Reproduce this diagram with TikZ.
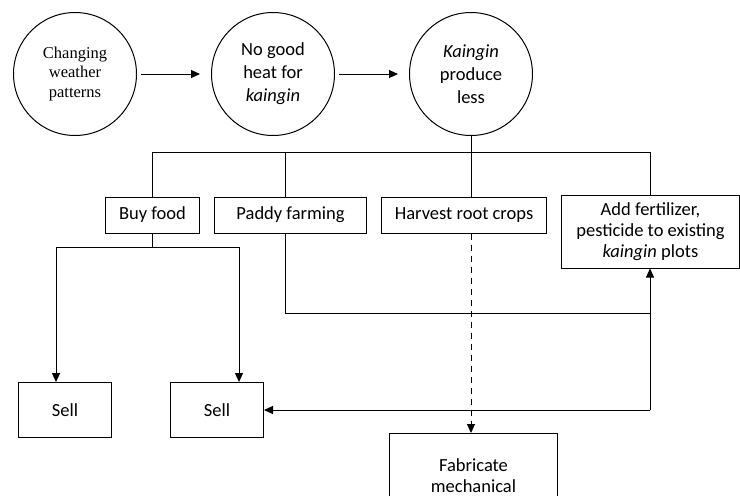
\documentclass[tikz,border=0pt]{standalone}
\usepackage{fontspec}
\setmainfont{Carlito}
\newfontfamily\serifface{Liberation Serif}
\usetikzlibrary{arrows.meta}
\begin{document}
\begin{tikzpicture}[x=1pt,y=-1pt,
  circ/.style={circle,draw,line width=1pt,minimum size=123pt,inner sep=0pt,align=center,font=\fontsize{18.5}{23}\selectfont},
  box/.style={rectangle,draw,line width=1pt,inner sep=0pt,align=center,anchor=north west,font=\fontsize{18.5}{21}\selectfont},
  conn/.style={line width=1pt},
  arr/.style={conn,-{Triangle[length=9pt,width=8pt]}},
  harr/.style={arr,shorten <=4pt,shorten >=11pt},
  darr/.style={arr,dash pattern=on 6pt off 5pt},
]
\useasboundingbox (0,0) rectangle (740,496);
\node[circ,font=\serifface\fontsize{16.5}{19.5}\selectfont] (c1) at (75,74) {Changing\\weather\\patterns};
\node[circ] (c2) at (273,74) {No good\\heat for\\\textit{kaingin}};
\node[circ] (c3) at (471,74) {\textit{Kaingin}\\produce\\less};
\draw[harr] (c1) -- (c2);
\draw[harr] (c2) -- (c3);

\node[box,minimum width=94pt,minimum height=36pt] (buy) at (105,196.5) {Buy food};
\node[box,minimum width=152pt,minimum height=36pt] (paddy) at (214,196.5) {Paddy farming};
\node[box,minimum width=165pt,minimum height=36pt] (harv) at (381,196.5) {Harvest root crops};
\node[box,minimum width=178pt,minimum height=73pt] (fert) at (561,194.5) {Add fertilizer,\\pesticide to existing\\\textit{kaingin} plots};
\node[box,minimum width=93pt,minimum height=55pt] (s1) at (18,382) {Sell};
\node[box,minimum width=93pt,minimum height=55pt] (s2) at (170,382) {Sell};
\begin{scope}
\clip (0,0) rectangle (740,496);
\node[box,minimum width=168pt,minimum height=84pt] (fab) at (389,433) {Fabricate\\mechanical};
\end{scope}

\coordinate (bus) at (0,152.5);
\coordinate (bl) at (0,247);
\coordinate (pl) at (0,313);
\coordinate (fx) at (650,0);

\draw[conn] (c3.south) -- (c3.south |- bus);
\draw[conn] (buy.north) -- (buy.north |- bus) -- (fx |- bus) -- (fx |- fert.north);
\draw[conn] (paddy.north -| 285,0) -- (285,0 |- bus);
\draw[conn] (harv.north -| c3.south) -- (c3.south |- bus);

\draw[conn] (buy.south) -- (buy.south |- bl);
\coordinate (s1t) at ([xshift=-9pt]s1.north);
\coordinate (s2t) at ([xshift=22pt]s2.north);
\draw[arr] (s2t |- bl) -- (s1t |- bl) -- (s1t);
\draw[arr] (s1t |- bl) -- (s2t |- bl) -- (s2t);
\draw[conn] (paddy.south -| 285,0) -- (285,0 |- pl) -- (fx |- pl);
\draw[arr] (fx |- s2.east) -- (fx |- fert.south);
\draw[arr] (fx |- s2.east) -- (s2.east);
\draw[darr] (harv.south -| c3.south) -- (fab.north -| c3.south);
\end{tikzpicture}
\end{document}
